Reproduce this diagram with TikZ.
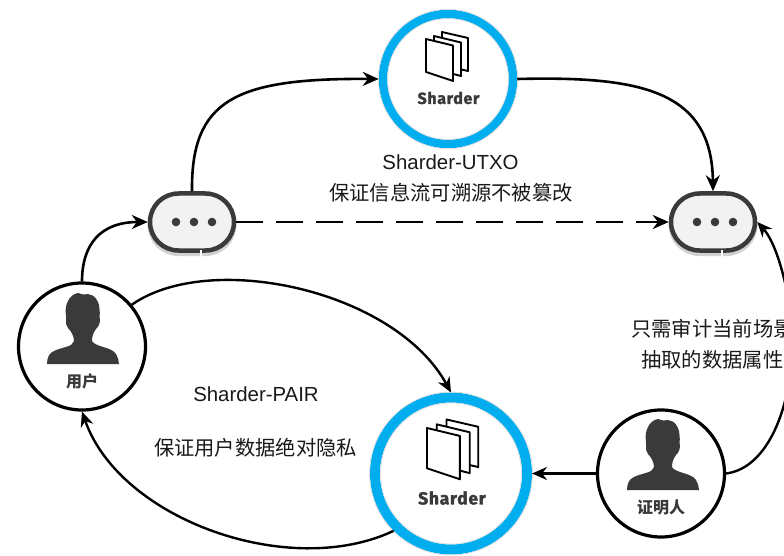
\documentclass[tikz,border=0pt]{standalone}
\usepackage{fontspec}
\setmainfont{Liberation Sans}
\newfontfamily\cjk{Noto Sans CJK SC}
\newfontfamily\shd[FakeBold=1.6,LetterSpace=4]{Fira Sans}
\usetikzlibrary{arrows.meta,shapes.misc}
\definecolor{ringblue}{HTML}{00AEEF}
\definecolor{ink}{HTML}{3A3A3A}
\definecolor{pillfill}{HTML}{F2F2F2}
\tikzset{
  x=1pt,y=-1pt,
  arr/.style={draw=black,line width=2.6pt,-{Stealth[length=16pt,width=14pt]}},
  thinarr/.style={draw=black,line width=2.4pt,-{Stealth[length=15pt,width=13pt]}},
  ring/.style={circle,draw=ringblue,fill=white,line width=#1,inner sep=0pt},
  halo/.style={draw=black!14,line width=.7pt},
  person/.style={circle,draw=black,fill=white,line width=3.2pt,inner sep=0pt,minimum size=127pt},
  pillbox/.style={rounded rectangle,draw=ink,fill=pillfill,line width=4.5pt,minimum width=84pt,minimum height=57pt,inner sep=0pt,
    preaction={draw=black!18,line width=5pt,transform canvas={yshift=-3pt}}},
  lbl/.style={font=\fontsize{20.4}{24}\selectfont,text=black!90,inner sep=0pt,anchor=center},
  cjklbl/.style={font=\cjk\fontsize{20.3}{24}\selectfont,text=black!90,inner sep=0pt,anchor=center},
  shard/.style={font=\shd\bfseries\fontsize{#1}{#1}\selectfont,text=ink,inner sep=0pt},
  who/.style={font=\cjk\bfseries\fontsize{16}{18}\selectfont,text=ink,inner sep=0pt},
  pics/dots/.style={code={
    \fill[ink] (-18,0) circle (4.3);
    \fill[ink] (0,0) circle (4.3);
    \fill[ink] (18,0) circle (4.3);}},
  pics/man/.style={code={
    \fill[ink] (-4,0) -- (1,1.5) .. controls (8,0) and (14,2) .. (17,12)
      .. controls (18,20) and (18,22) .. (17.5,24) -- (18,27)
      .. controls (18,32) and (15,35) .. (14,36)
      .. controls (11,40) and (10,44) .. (10,48)
      .. controls (13,54) and (30,54) .. (34,61)
      .. controls (36,65) and (37,68) .. (37,71)
      -- (-35,71) .. controls (-35,65) and (-33,60) .. (-28,58)
      .. controls (-20,54) and (-9,54) .. (-8,48)
      .. controls (-8,43) and (-11,38) .. (-14,35)
      .. controls (-16,33) and (-16,30) .. (-16,27) -- (-16,23)
      .. controls (-17,16) and (-16,12) .. (-14,8)
      .. controls (-12,4) and (-9,1) .. (-4,0) -- cycle;}},
  pageleaf/.style={draw=black,fill=white,line width=1.9pt,line join=round},
  pics/pages/.style={code={
    \filldraw[pageleaf] (16,-7) -- (42,-1) -- (42,32) -- (16,26) -- cycle;
    \filldraw[pageleaf] (8,-3) -- (35,3.5) -- (35,37) -- (8,30) -- cycle;
    \filldraw[pageleaf] (0,0) -- (27,6.5) -- (27,42) -- (0,33) -- cycle;}}
}
\begin{document}
\begin{tikzpicture}
\path[use as bounding box] (0,0) rectangle (784,556);
\clip (0,0) rectangle (784,556);

\node[ring=8.5pt,minimum size=130pt] (shardTop) at (448,79) {};
\node[ring=10pt,minimum size=152pt] (shardBot) at (451,473.5) {};
\draw[halo] (shardTop.center) circle (69.7);
\draw[halo] (shardTop.center) circle (60.4);
\draw[halo] (shardBot.center) circle (81.5);
\draw[halo] (shardBot.center) circle (70.5);
\node[person] (user) at (82,346.5) {};
\node[person] (prover) at (661,473.5) {};
\node[pillbox] (pillL) at (192,222) {};
\node[pillbox] (pillR) at (713,222) {};
\draw[white,line width=1.5pt] ([xshift=9pt]pillL.south) ++(0,-3) -- ++(0,6);
\draw[white,line width=1.5pt] ([xshift=9pt]pillR.south) ++(0,-3) -- ++(0,6);

\pic at (194,222) {dots};
\pic at (715,222) {dots};
\pic at (82,293) {man};
\pic at (662,419) {man};
\pic at (426,39) {pages};
\pic[scale=1.22] at (427,428) {pages};

\node[shard=16] (nameTop) at (448.5,98) {Sharder};
\node[shard=17.5] (nameBot) at (452,498) {Sharder};
\node[who] (userName) at (82,381.5) {用户};
\node[who] (proverName) at (661,507.5) {证明人};

\node[lbl] (t1) at (450.5,162) {Sharder-UTXO};
\node[cjklbl] (t2) at (451,193) {保证信息流可溯源不被篡改};
\node[lbl] (t3) at (256,394) {Sharder-PAIR};
\node[cjklbl] (t4) at (255.5,448) {保证用户数据绝对隐私};
\node[cjklbl,anchor=west] (t5) at (631,329) {只需审计当前场景};
\node[cjklbl,anchor=west] (t6) at (641,360) {抽取的数据属性};

\coordinate (offEdge) at (792,330);
\draw[arr] (user.north) .. controls (82,245) and (100,222) .. (pillL.west);
\draw[arr] (pillL.north) .. controls (191,100) and (235,78) .. (shardTop.west);
\draw[arr] (shardTop.east) .. controls (640,76) and (712,90) .. (pillR.north);
\draw[draw=black,line width=2.6pt,dash pattern=on 27pt off 13pt,-{Stealth[length=16pt,width=14pt]}] (pillL.east) -- (pillR.west);
\draw[thinarr] (user.40) .. controls (210,250) and (395,290) .. (shardBot.north);
\draw[thinarr] (shardBot.225) .. controls (290,580) and (120,520) .. (user.south);
\draw[thinarr] (prover.west) -- (shardBot.east);
\draw[thinarr] (prover.east) .. controls (770,468) and (795,400) .. (offEdge) .. controls (790,295) and (778,245) .. (pillR.east);
\end{tikzpicture}
\end{document}
